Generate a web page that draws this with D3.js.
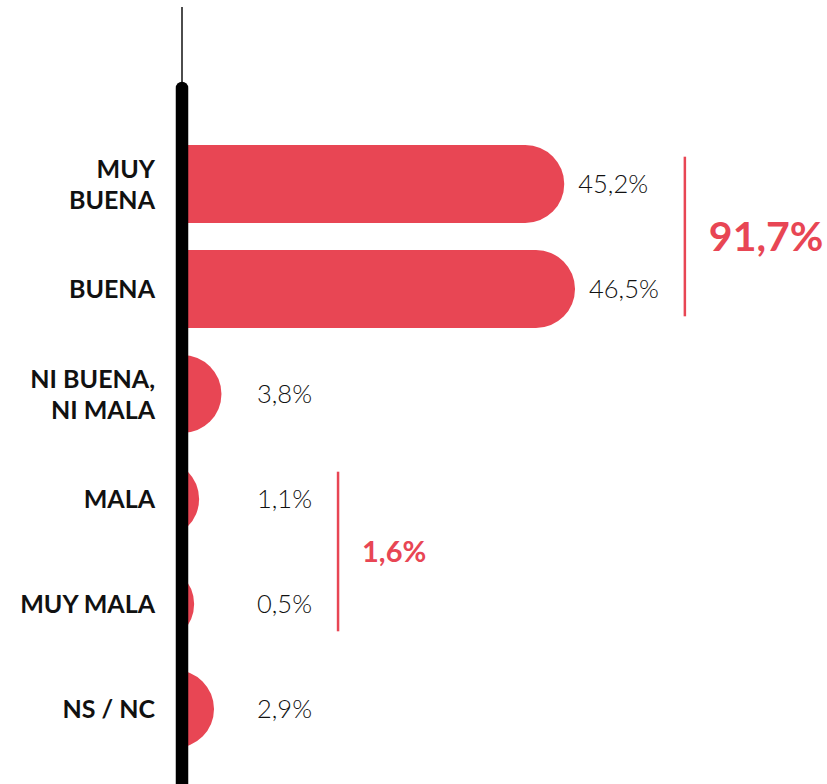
<!DOCTYPE html>
<html>
<head>
<meta charset="utf-8">
<script src="https://cdn.jsdelivr.net/npm/d3@7"></script>
<style>
  body { margin: 0; background: #fff; }
  svg { display: block; }
</style>
</head>
<body>
<svg id="chart"></svg>
<script>
const categories = ['MUY BUENA', 'BUENA', 'NI BUENA, NI MALA', 'MALA', 'MUY MALA', 'NS / NC']
const labelLines = [['MUY', 'BUENA'], ['BUENA'], ['NI BUENA,', 'NI MALA'], ['MALA'], ['MUY MALA'], ['NS / NC']]
const values = [45.2, 46.5, 3.8, 1.1, 0.5, 2.9]
const groupFirst = ['MUY BUENA', 'MALA']
const groupLast = ['BUENA', 'MUY MALA']
const groupTotals = [91.7, 1.6]

const red = '#e84654'
const width = 827
const height = 784
const axisX = 182

const locale = d3.formatLocale({ decimal: ',', thousands: '.', grouping: [3], currency: ['', '€'] })
const pct = v => locale.format('.1f')(v) + '%'

const svg = d3.select('#chart').attr('width', width).attr('height', height)

const x = d3.scaleLinear().domain([0, 50]).range([190, 604])
const y = d3.scaleBand()
  .domain(categories)
  .range([131.5, 761.5])
  .paddingInner(0.257)
  .paddingOuter(0.1285)

const bw = y.bandwidth()
const r = bw / 2

svg.append('clipPath').attr('id', 'barClip')
  .append('rect')
  .attr('x', axisX).attr('y', 0)
  .attr('width', width).attr('height', height)

const data = categories.map((c, i) => ({ cat: c, value: values[i], lines: labelLines[i] }))

// barras con punta redondeada
svg.append('g')
  .attr('clip-path', 'url(#barClip)')
  .selectAll('path')
  .data(data)
  .enter().append('path')
  .attr('fill', red)
  .attr('d', d => {
    const top = y(d.cat)
    const cx = x(d.value) - r
    return `M${axisX - 40},${top}H${cx}A${r},${r} 0 0 1 ${cx},${top + bw}H${axisX - 40}Z`
  })

// eje vertical
svg.append('line')
  .attr('x1', axisX).attr('x2', axisX)
  .attr('y1', 7).attr('y2', 90)
  .attr('stroke', '#000').attr('stroke-width', 1.4)

svg.append('line')
  .attr('x1', axisX).attr('x2', axisX)
  .attr('y1', 88).attr('y2', height + 20)
  .attr('stroke', '#000').attr('stroke-width', 12.5)
  .attr('stroke-linecap', 'round')

// nombres de categorias
const lineH = 31
svg.append('g')
  .selectAll('text')
  .data(data)
  .enter().append('text')
  .attr('text-anchor', 'end')
  .attr('font-family', 'Lato, "Open Sans", sans-serif')
  .attr('font-weight', 700)
  .attr('font-size', 25)
  .attr('fill', '#111')
  .each(function (d) {
    const cy = y(d.cat) + bw / 2
    const n = d.lines.length
    d3.select(this).selectAll('tspan')
      .data(d.lines)
      .enter().append('tspan')
      .attr('x', 155)
      .attr('y', (l, i) => cy + (i - (n - 1) / 2) * lineH)
      .attr('dy', '0.36em')
      .text(l => l)
  })

// valores
const valueLabels = svg.append('g')
  .selectAll('text')
  .data(data)
  .enter().append('text')
  .attr('x', d => Math.max(x(d.value) + 14, 257))
  .attr('y', d => y(d.cat) + bw / 2)
  .attr('dy', '0.36em')
  .attr('font-family', 'Lato, "Open Sans", sans-serif')
  .attr('font-weight', 300)
  .attr('font-size', 25.5)
  .attr('fill', '#111')
  .text(d => pct(d.value))

// llaves de totales
const totalSizes = [41, 29]
groupTotals.forEach((total, gi) => {
  const i0 = categories.indexOf(groupFirst[gi])
  const i1 = categories.indexOf(groupLast[gi])
  let right = 0
  valueLabels.each(function (d, i) {
    if (i >= i0 && i <= i1) {
      const b = this.getBBox()
      right = Math.max(right, b.x + b.width)
    }
  })
  const bx = right + 26
  const y0 = y(groupFirst[gi]) + bw * 0.15
  const y1 = y(groupLast[gi]) + bw * 0.85

  svg.append('line')
    .attr('x1', bx).attr('x2', bx)
    .attr('y1', y0).attr('y2', y1)
    .attr('stroke', red).attr('stroke-width', 2.5)

  svg.append('text')
    .attr('x', bx + 24)
    .attr('y', (y0 + y1) / 2)
    .attr('dy', '0.36em')
    .attr('font-family', 'Lato, "Open Sans", sans-serif')
    .attr('font-weight', 700)
    .attr('font-size', totalSizes[gi])
    .attr('fill', red)
    .text(pct(total))
})
</script>
</body>
</html>
